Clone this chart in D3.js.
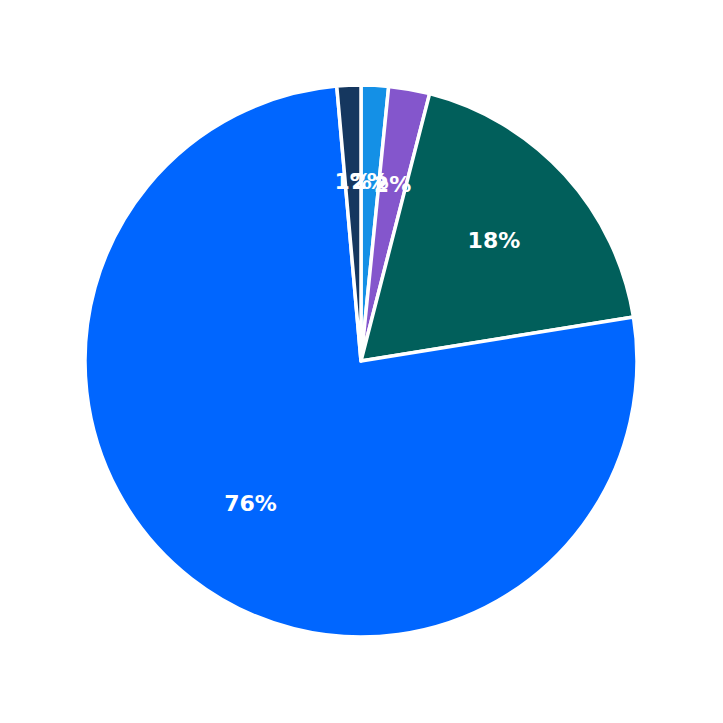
<!DOCTYPE html>
<html>
<head>
<meta charset="utf-8">
<script src="https://cdn.jsdelivr.net/npm/d3@7"></script>
<style>
  body { margin: 0; background: #fff; }
</style>
</head>
<body>
<div id="pie-chart"></div>
<script>
// slices, clockwise from 12 o'clock
const names = ["B", "C", "D", "E", "A"];
const values = [1.6, 2.4, 18.45, 76.15, 1.4];
const colors = ["#1490e6", "#8456cc", "#015f5b", "#0066ff", "#15375f"];

const w = 723, h = 723;
const radius = 276;
const labelRadius = 180;

const svg = d3.select("#pie-chart")
              .append("svg")
              .attr("width", w)
              .attr("height", h);

const g = svg.append("g")
             .attr("transform", "translate(" + 361 + "," + 361 + ")");

const total = d3.sum(values);
const pie = d3.pie().sort(null).value(function(d) { return d; });
const arcs = pie(values);

const arc = d3.arc().innerRadius(0).outerRadius(radius);
const labelArc = d3.arc().innerRadius(labelRadius).outerRadius(labelRadius);

// Draw slices
g.selectAll("path")
 .data(arcs)
 .enter()
 .append("path")
 .attr("d", arc)
 .attr("fill", function(d, i) { return colors[i]; })
 .attr("stroke", "#fff")
 .attr("stroke-width", 3.5)
 .attr("stroke-linejoin", "round");

// Percent labels
g.selectAll("text")
 .data(arcs)
 .enter()
 .append("text")
 .attr("transform", function(d) { return "translate(" + labelArc.centroid(d) + ")"; })
 .attr("text-anchor", "middle")
 .attr("dy", "0.36em")
 .attr("fill", "#fff")
 .style("font-family", "DejaVu Sans, sans-serif")
 .style("font-weight", "bold")
 .style("font-size", "22px")
 .text(function(d) { return Math.round(d.data / total * 100) + "%"; });
</script>
</body>
</html>
